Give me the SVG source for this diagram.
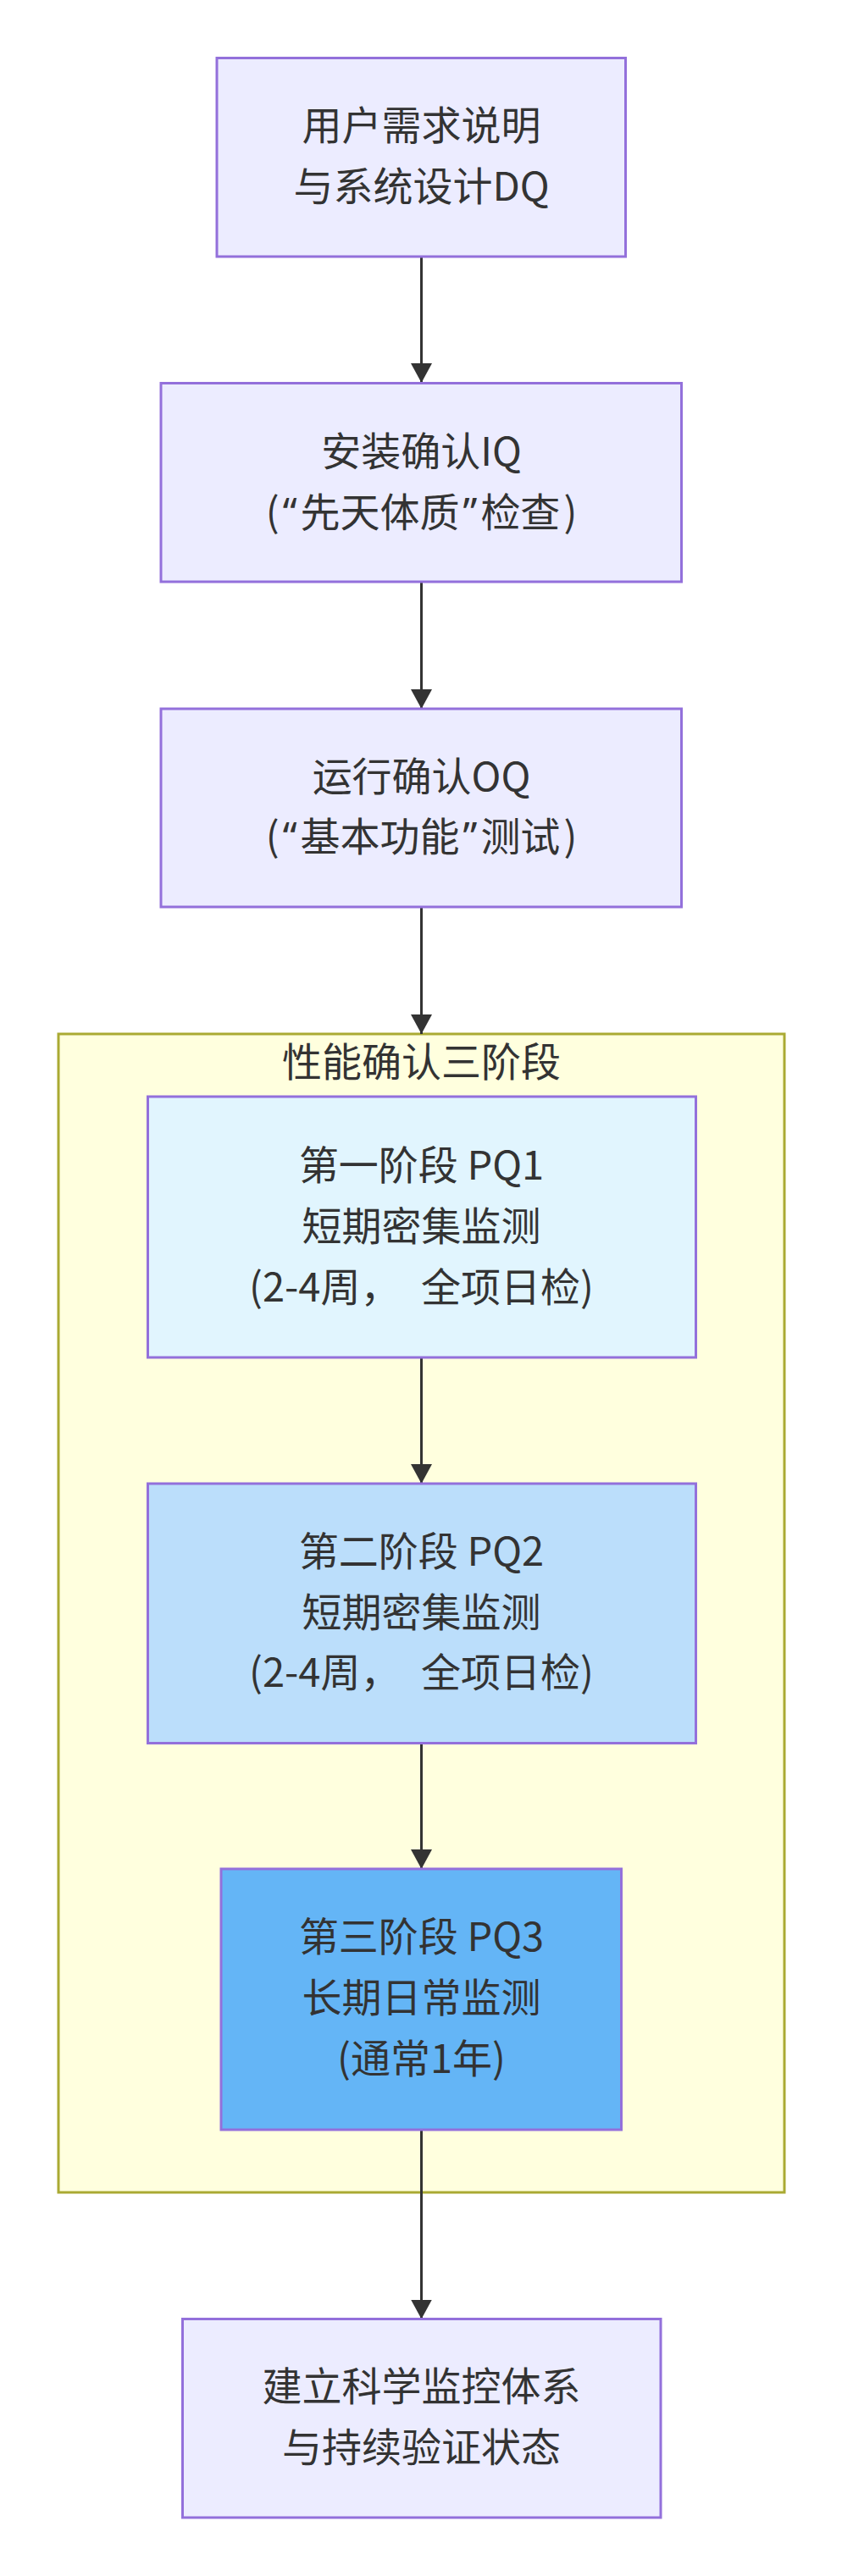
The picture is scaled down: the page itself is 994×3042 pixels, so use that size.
<svg xmlns="http://www.w3.org/2000/svg" width="994" height="3042" viewBox="0 0 994 3042">
<style>
.node rect{fill:#ECECFF;stroke:#9370DB;stroke-width:3}
#pq1 rect{fill:#E1F5FE}
#pq2 rect{fill:#BBDEFB}
#pq3 rect{fill:#64B5F6}
.cluster rect{fill:#FFFFDE;stroke:#AAAA33;stroke-width:3}
text{font-family:"Noto Sans CJK SC","Noto Sans",sans-serif;font-size:47px;fill:#333333;text-anchor:middle}
.q{font-family:"Noto Sans","Noto Sans CJK SC",sans-serif}
.edge{stroke:#333333;stroke-width:3;fill:none}
</style>
<defs>
<marker id="arr" viewBox="0 0 23 25" refX="23" refY="12.5" markerWidth="23" markerHeight="25" markerUnits="userSpaceOnUse" orient="auto">
<path d="M0,0 L23,12.5 L0,25 z" fill="#333333"/>
</marker>
</defs>
<rect width="994" height="3042" fill="#FFFFFF"/>
<g id="cluster-pq" class="cluster">
<rect x="69" y="1221" width="857" height="1368"/>
<text x="497.5" y="1271">性能确认三阶段</text>
</g>
<g id="connectors">
<path class="edge" d="M497.5,303 L497.5,452" marker-end="url(#arr)"/>
<path class="edge" d="M497.5,687 L497.5,837" marker-end="url(#arr)"/>
<path class="edge" d="M497.5,1071 L497.5,1221" marker-end="url(#arr)"/>
<path class="edge" d="M497.5,1603 L497.5,1752" marker-end="url(#arr)"/>
<path class="edge" d="M497.5,2058.5 L497.5,2207" marker-end="url(#arr)"/>
<path class="edge" d="M497.5,2515 L497.5,2738.5" marker-end="url(#arr)"/>
</g>
<g id="dq" class="node">
<rect x="256" y="68.5" width="482.5" height="234.5"/>
<text x="497.5" y="165">用户需求说明</text>
<text x="497.5" y="237">与系统设计DQ</text>
</g>
<g id="iq" class="node">
<rect x="190" y="452.5" width="614.5" height="234.5"/>
<text x="497.5" y="549.5">安装确认IQ</text>
<text x="497.5" y="621.5">(<tspan class="q" dx="4">“</tspan><tspan dx="4">先天体质</tspan><tspan class="q" dx="4">”</tspan><tspan dx="4">检查</tspan><tspan dx="4">)</tspan></text>
</g>
<g id="oq" class="node">
<rect x="190" y="837" width="614.5" height="234"/>
<text x="497.5" y="934">运行确认OQ</text>
<text x="497.5" y="1005">(<tspan class="q" dx="4">“</tspan><tspan dx="4">基本功能</tspan><tspan class="q" dx="4">”</tspan><tspan dx="4">测试</tspan><tspan dx="4">)</tspan></text>
</g>
<g id="pq1" class="node">
<rect x="174.5" y="1295" width="647" height="308"/>
<text x="497.5" y="1393">第一阶段 PQ1</text>
<text x="497.5" y="1465">短期密集监测</text>
<text x="497.5" y="1537">(2-4周， <tspan dx="14">全项日检)</tspan></text>
</g>
<g id="pq2" class="node">
<rect x="174.5" y="1752" width="647" height="306.5"/>
<text x="497.5" y="1849">第二阶段 PQ2</text>
<text x="497.5" y="1921">短期密集监测</text>
<text x="497.5" y="1992">(2-4周， <tspan dx="14">全项日检)</tspan></text>
</g>
<g id="pq3" class="node">
<rect x="261" y="2207" width="472.5" height="308"/>
<text x="497.5" y="2304">第三阶段 PQ3</text>
<text x="497.5" y="2376">长期日常监测</text>
<text x="497.5" y="2448">(通常1年)</text>
</g>
<g id="final" class="node">
<rect x="215.5" y="2738.5" width="564.5" height="234.5"/>
<text x="497.5" y="2835">建立科学监控体系</text>
<text x="497.5" y="2907">与持续验证状态</text>
</g>
</svg>
